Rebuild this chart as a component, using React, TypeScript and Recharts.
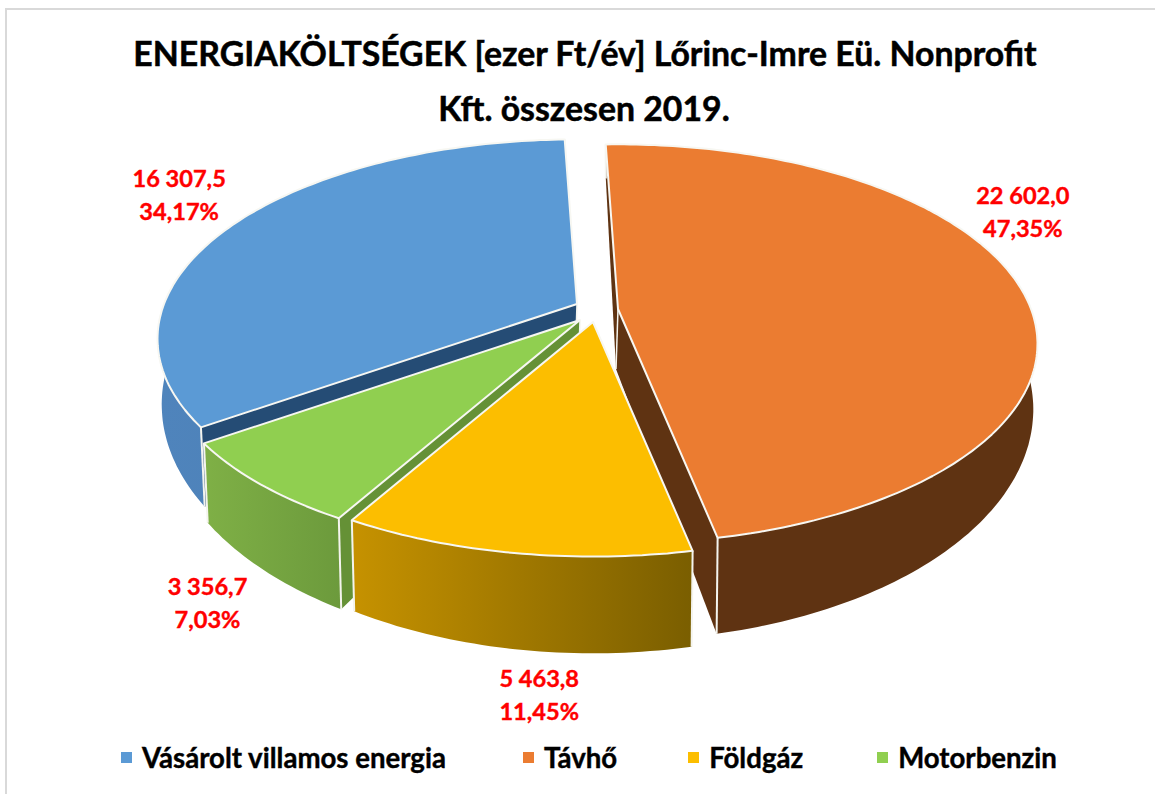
import React from 'react';
import { PieChart, Pie, Legend } from 'recharts';

const categories = ['Vásárolt villamos energia', 'Távhő', 'Földgáz', 'Motorbenzin'];
const values = [16307.5, 22602.0, 5463.8, 3356.7];
const valueLabels = ['16 307,5', '22 602,0', '5 463,8', '3 356,7'];
const percentLabels = ['34,17%', '47,35%', '11,45%', '7,03%'];

const topColors = ['#5B9AD5', '#EB7C31', '#FCBE00', '#90CF50'];
const cutColors = ['#254C75', '#5F3312', '#7F6000', '#659136'];
const wallFrom = ['#4F84BC', '#5F3312', '#C69200', '#7FB046'];
const wallTo = ['#4A7CB0', '#5F3312', '#7A5E00', '#6C9A3C'];

// how far each slice is pulled away from the pie centre
const apexShift = [[-13, -6], [28, -1], [3, 12], [-10, 10]];
const labelShift = [[-55, -45], [3, -91], [25, 126], [-53, 103]];
const legendGaps = [77, 71, 74, 0];
// back to front
const paintOrder = [0, 1, 3, 2];

const CX = 590;
const CY = 310;
const RADIUS = 413;
const PERSPECTIVE = 0.175;
const TILT_TOP = 0.4685;
const TILT_BOTTOM = 0.542;
const DEPTH = 60;

const data = categories.map((name, i) => ({ name, value: values[i], fill: topColors[i] }));

const RAD = Math.PI / 180;

const onTop = (a: number, ox: number, oy: number, r = RADIUS) => {
  const u = Math.cos(a * RAD);
  const v = Math.sin(a * RAD);
  const d = 1 + PERSPECTIVE * v;
  return [ox + (r * u) / d, oy - (r * TILT_TOP * v) / d];
};

const onBottom = (a: number, ox: number, oy: number, r = RADIUS) => {
  const u = Math.cos(a * RAD);
  const v = Math.sin(a * RAD);
  const d = 1 + PERSPECTIVE * v;
  return [ox + (r * 0.99 * u) / d, oy + DEPTH - (r * TILT_BOTTOM * v) / d];
};

const rim = (fn: typeof onTop, from: number, to: number, ox: number, oy: number, r: number) => {
  const pts: number[][] = [];
  const steps = Math.max(2, Math.ceil(Math.abs(to - from)));
  for (let s = 0; s <= steps; s++) pts.push(fn(from + ((to - from) * s) / steps, ox, oy, r));
  return pts;
};

const toPath = (pts: number[][]) =>
  'M' + pts.map((p) => p[0].toFixed(1) + ',' + p[1].toFixed(1)).join('L') + 'Z';

const sliceShape = (only: number) => (props: any) => {
  const { index, startAngle, endAngle, outerRadius, cx, cy } = props;
  if (index !== only) return <g />;
  const ox = cx + apexShift[only][0];
  const oy = cy + apexShift[only][1];
  const top = rim(onTop, startAngle, endAngle, ox, oy, outerRadius);
  const bottom = rim(onBottom, startAngle, endAngle, ox, oy, outerRadius);
  const apexTop = [ox, oy];
  const apexBottom = [ox - 2, oy + DEPTH];
  const gradId = 'wall' + only;
  const first = top.length - 1;
  return (
    <g>
      <defs>
        <linearGradient id={gradId} x1="0" y1="0" x2="1" y2="0">
          <stop offset="0%" stopColor={wallFrom[only]} />
          <stop offset="100%" stopColor={wallTo[only]} />
        </linearGradient>
      </defs>
      <path d={toPath([apexTop, top[0], bottom[0], apexBottom])} fill={cutColors[only]} />
      <path d={toPath([apexTop, top[first], bottom[first], apexBottom])} fill={cutColors[only]} />
      <path d={toPath([...top, ...[...bottom].reverse()])} fill={`url(#${gradId})`} />
      <line x1={top[0][0]} y1={top[0][1]} x2={bottom[0][0]} y2={bottom[0][1]} stroke="#F4F4EE" strokeWidth={2} />
      <line x1={top[first][0]} y1={top[first][1]} x2={bottom[first][0]} y2={bottom[first][1]} stroke="#F4F4EE" strokeWidth={2} />
      <line x1={ox} y1={oy} x2={apexBottom[0]} y2={apexBottom[1]} stroke="#F4F4EE" strokeWidth={1.5} />
      <path d={toPath([apexTop, ...top])} fill={topColors[only]} stroke="#F7F7F2" strokeWidth={2} strokeLinejoin="round" />
    </g>
  );
};

const sliceLabel = (only: number) => (props: any) => {
  const { index, midAngle, outerRadius, cx, cy } = props;
  if (index !== only) return null;
  const [x0, y0] = onTop(midAngle, cx + apexShift[only][0], cy + apexShift[only][1], outerRadius);
  const x = x0 + labelShift[only][0];
  const y = y0 + labelShift[only][1] + 8;
  return (
    <text textAnchor="middle" fill="#FF0000" stroke="#FF0000" strokeWidth={0.4} fontFamily="Lato" fontWeight={700} fontSize={23.6}>
      <tspan x={x} y={y}>{valueLabels[only]}</tspan>
      <tspan x={x} y={y + 33}>{percentLabels[only]}</tspan>
    </text>
  );
};

const LegendRow = (props: any) => {
  // every Pie layer adds its items, keep one of each
  const items = props.payload.filter(
    (item: any, i: number, all: any[]) => all.findIndex((o) => o.value === item.value) === i
  );
  return (
    <div style={{ display: 'flex', fontFamily: 'Lato', fontWeight: 700, fontSize: 27.6, color: '#000', whiteSpace: 'nowrap', WebkitTextStroke: '0.4px #000' }}>
      {items.map((item: any, i: number) => (
        <div key={item.value} style={{ display: 'flex', alignItems: 'center', marginRight: legendGaps[i] }}>
          <span style={{ width: 11, height: 11, background: item.color, marginRight: 10 }} />
          {item.value}
        </div>
      ))}
    </div>
  );
};

export default function App() {
  return (
    <div style={{ position: 'absolute', left: 0, top: 0, width: 1155, height: 794, background: '#fff', overflow: 'hidden' }}>
      <div style={{ position: 'absolute', left: 5, top: 8, width: 1150, height: 786, borderLeft: '2px solid #D9D9D9', borderTop: '2px solid #D9D9D9' }} />
      <PieChart width={1155} height={794} margin={{ top: 0, right: 0, bottom: 0, left: 0 }} style={{ position: 'absolute', left: 0, top: 0 }}>
        <text x={585} y={66} textAnchor="middle" fontFamily="Lato" fontWeight={700} fontSize={33.8} fill="#000" stroke="#000" strokeWidth={0.5}>
          ENERGIAKÖLTSÉGEK [ezer Ft/év] Lőrinc-Imre Eü. Nonprofit
        </text>
        <text x={584} y={121} textAnchor="middle" fontFamily="Lato" fontWeight={700} fontSize={33.8} fill="#000" stroke="#000" strokeWidth={0.5}>
          Kft. összesen 2019.
        </text>
        {paintOrder.map((slice, i) => (
          <Pie
            key={slice}
            data={data}
            dataKey="value"
            nameKey="name"
            cx={CX}
            cy={CY}
            outerRadius={RADIUS}
            startAngle={215}
            endAngle={-145}
            stroke="none"
            legendType={i === 0 ? 'square' : 'none'}
            shape={sliceShape(slice)}
            label={sliceLabel(slice)}
            labelLine={false}
            isAnimationActive={false}
          />
        ))}
        <Legend
          content={LegendRow}
          itemSorter={null}
          layout="horizontal"
          align="left"
          verticalAlign="bottom"
          wrapperStyle={{ left: 121, top: 741, width: 1030 }}
        />
      </PieChart>
    </div>
  );
}
